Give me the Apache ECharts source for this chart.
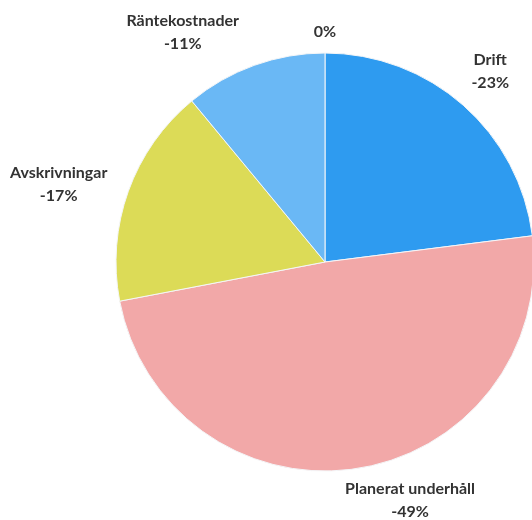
<!DOCTYPE html>
<html>
<head>
<meta charset="utf-8">
<script src="https://cdn.jsdelivr.net/npm/echarts@6/dist/echarts.min.js"></script>
<style>html,body{margin:0;padding:0;background:#fff;}#c{width:532px;height:520px;}</style>
</head>
<body>
<div id="c"></div>
<script>
// Data (clockwise from 12 o'clock)
const categories = ['', 'Drift', 'Planerat underhåll', 'Avskrivningar', 'Räntekostnader'];
const values = [0, -23, -49, -17, -11];
const colors = ['#2e9bf0', '#2e9bf0', '#f2a8a8', '#dcdb57', '#6ab8f5'];

const cx = 325, cy = 262, R = 209;
// label placement tweaks (as in the original, labels nudged to avoid collisions)
const labelNudge = [0, 0, -8, -2, -9];
const labelGap = [10, 22, 17, 22, 30];

const chart = echarts.init(document.getElementById('c'), null, {renderer: 'canvas'});
const total = values.reduce((s, v) => s + Math.abs(v), 0);
const mids = [];
let acc = 0;
values.forEach(v => { const a = Math.abs(v); mids.push((acc + a / 2) / total * 360); acc += a; });

chart.setOption({
  animation: false,
  backgroundColor: '#ffffff',
  series: [{
    type: 'pie',
    center: [cx, cy],
    radius: [0, R],
    startAngle: 90,
    clockwise: true,
    avoidLabelOverlap: false,
    minShowLabelAngle: 0,
    itemStyle: {borderColor: '#f4f6f8', borderWidth: 1},
    label: {
      show: true,
      position: 'outside',
      color: '#333333',
      fontFamily: 'Lato',
      fontWeight: 'bold',
      fontSize: 16,
      lineHeight: 23,
      align: 'center',
      formatter: p => (p.name ? p.name + '\n' : '') + p.data.raw + '%'
    },
    labelLine: {show: false},
    labelLayout: function (params) {
      const i = params.dataIndex;
      const a = (mids[i] + labelNudge[i]) * Math.PI / 180;
      const s = Math.sin(a), c = Math.cos(a);
      const w = params.labelRect.width, h = params.labelRect.height;
      const ax = cx + (R + labelGap[i]) * s;
      const ay = cy - (R + labelGap[i]) * c;
      return {
        x: ax + s * w / 2,
        y: ay - c * h / 2,
        align: 'center',
        verticalAlign: 'middle'
      };
    },
    data: categories.map((n, i) => ({
      name: n,
      value: Math.abs(values[i]),
      raw: values[i],
      itemStyle: {color: colors[i]}
    }))
  }]
});
</script>
</body>
</html>
